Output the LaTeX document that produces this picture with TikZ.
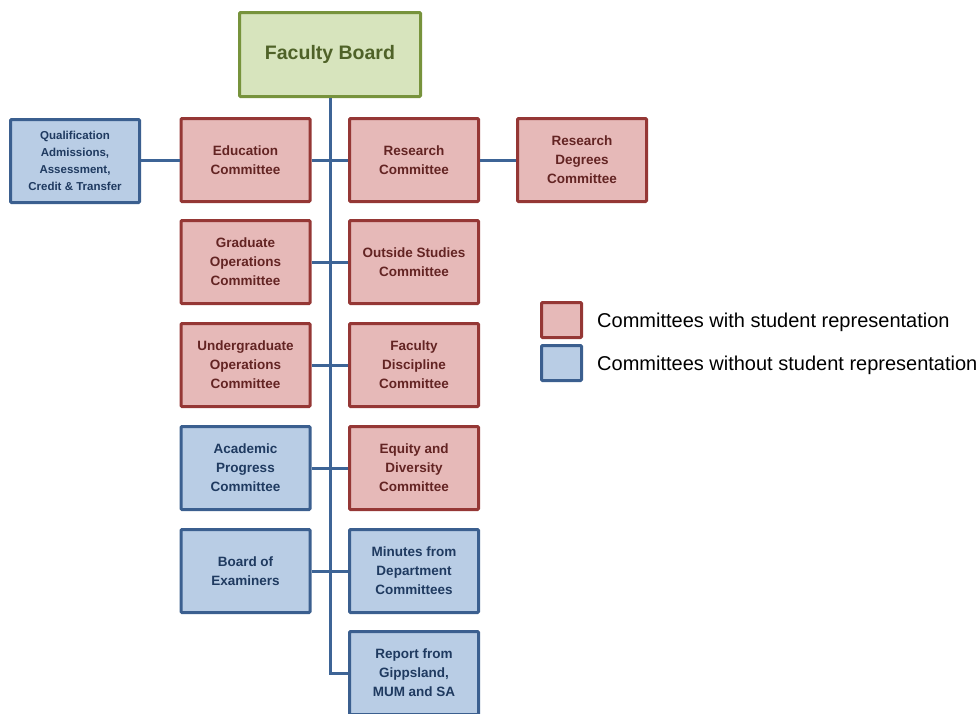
\documentclass[tikz,border=0pt]{standalone}
\usepackage{fontspec}
\setmainfont{Liberation Sans}
\definecolor{redfill}{HTML}{E6B9B8}
\definecolor{reddraw}{HTML}{953735}
\definecolor{redtext}{HTML}{632423}
\definecolor{bluefill}{HTML}{B9CDE5}
\definecolor{bluedraw}{HTML}{3B5F8F}
\definecolor{bluetext}{HTML}{1F3A60}
\definecolor{greenfill}{HTML}{D7E4BD}
\definecolor{greendraw}{HTML}{77933C}
\definecolor{greentext}{HTML}{4F6228}
\definecolor{linecol}{HTML}{3D6496}
\tikzset{
  box/.style={rectangle, rounded corners=1pt, line width=3pt, minimum width=129pt, minimum height=83pt, inner sep=0pt, align=center, font=\bfseries\fontsize{13.5}{19}\selectfont},
  redbox/.style={box, fill=redfill, draw=reddraw, text=redtext},
  bluebox/.style={box, fill=bluefill, draw=bluedraw, text=bluetext},
  conn/.style={draw=linecol, line width=3pt},
  legbox/.style={rectangle, rounded corners=1pt, line width=3pt, minimum width=40pt, minimum height=35pt, inner sep=0pt},
  legtext/.style={anchor=west, inner sep=0pt, font=\fontsize{20}{22}\selectfont, text=black}
}
\begin{document}
\begin{tikzpicture}[x=1pt,y=-1pt]
\useasboundingbox (0,0) rectangle (979,713);
\clip (0,0) rectangle (979,713);
% nodes
\node[box, fill=greenfill, draw=greendraw, text=greentext, minimum width=181pt, minimum height=84pt, font=\bfseries\fontsize{19.5}{22}\selectfont] (fb) at (330,54.5) {Faculty Board};
\coordinate (trunkend) at (330,673);
\node[bluebox, font=\bfseries\fontsize{11.5}{17}\selectfont] (qual) at (75,161) {Qualification\\Admissions,\\Assessment,\\Credit \& Transfer};
\node[redbox] (edu) at (245.5,160) {Education\\Committee};
\node[redbox] (res) at (414,160) {Research\\Committee};
\node[redbox] (rdc) at (582,160) {Research\\Degrees\\Committee};
\node[redbox] (grad) at (245.5,262) {Graduate\\Operations\\Committee};
\node[redbox] (out) at (414,262) {Outside Studies\\Committee};
\node[redbox] (ug) at (245.5,365) {Undergraduate\\Operations\\Committee};
\node[redbox] (fdc) at (414,365) {Faculty\\Discipline\\Committee};
\node[bluebox] (apc) at (245.5,468) {Academic\\Progress\\Committee};
\node[redbox] (edc) at (414,468) {Equity and\\Diversity\\Committee};
\node[bluebox] (boe) at (245.5,571) {Board of\\Examiners};
\node[bluebox] (min) at (414,571) {Minutes from\\Department\\Committees};
\node[bluebox] (rep) at (414,673) {Report from\\Gippsland,\\MUM and SA};
% legend
\node[legbox, fill=redfill, draw=reddraw] (leg1) at (561.5,320) {};
\node[legbox, fill=bluefill, draw=bluedraw] (leg2) at (561.5,363) {};
\node[legtext] (leg1t) at (597,322) {Committees with student representation};
\node[legtext] (leg2t) at (597,365) {Committees without student representation};
% connectors
\path[conn] (fb.south) -- (trunkend) -- (rep.west);
\path[conn] (qual.east |- edu.west) -- (edu.west);
\path[conn] (edu.east) -- (res.west);
\path[conn] (res.east) -- (rdc.west);
\path[conn] (grad.east) -- (out.west);
\path[conn] (ug.east) -- (fdc.west);
\path[conn] (apc.east) -- (edc.west);
\path[conn] (boe.east) -- (min.west);
\end{tikzpicture}
\end{document}
